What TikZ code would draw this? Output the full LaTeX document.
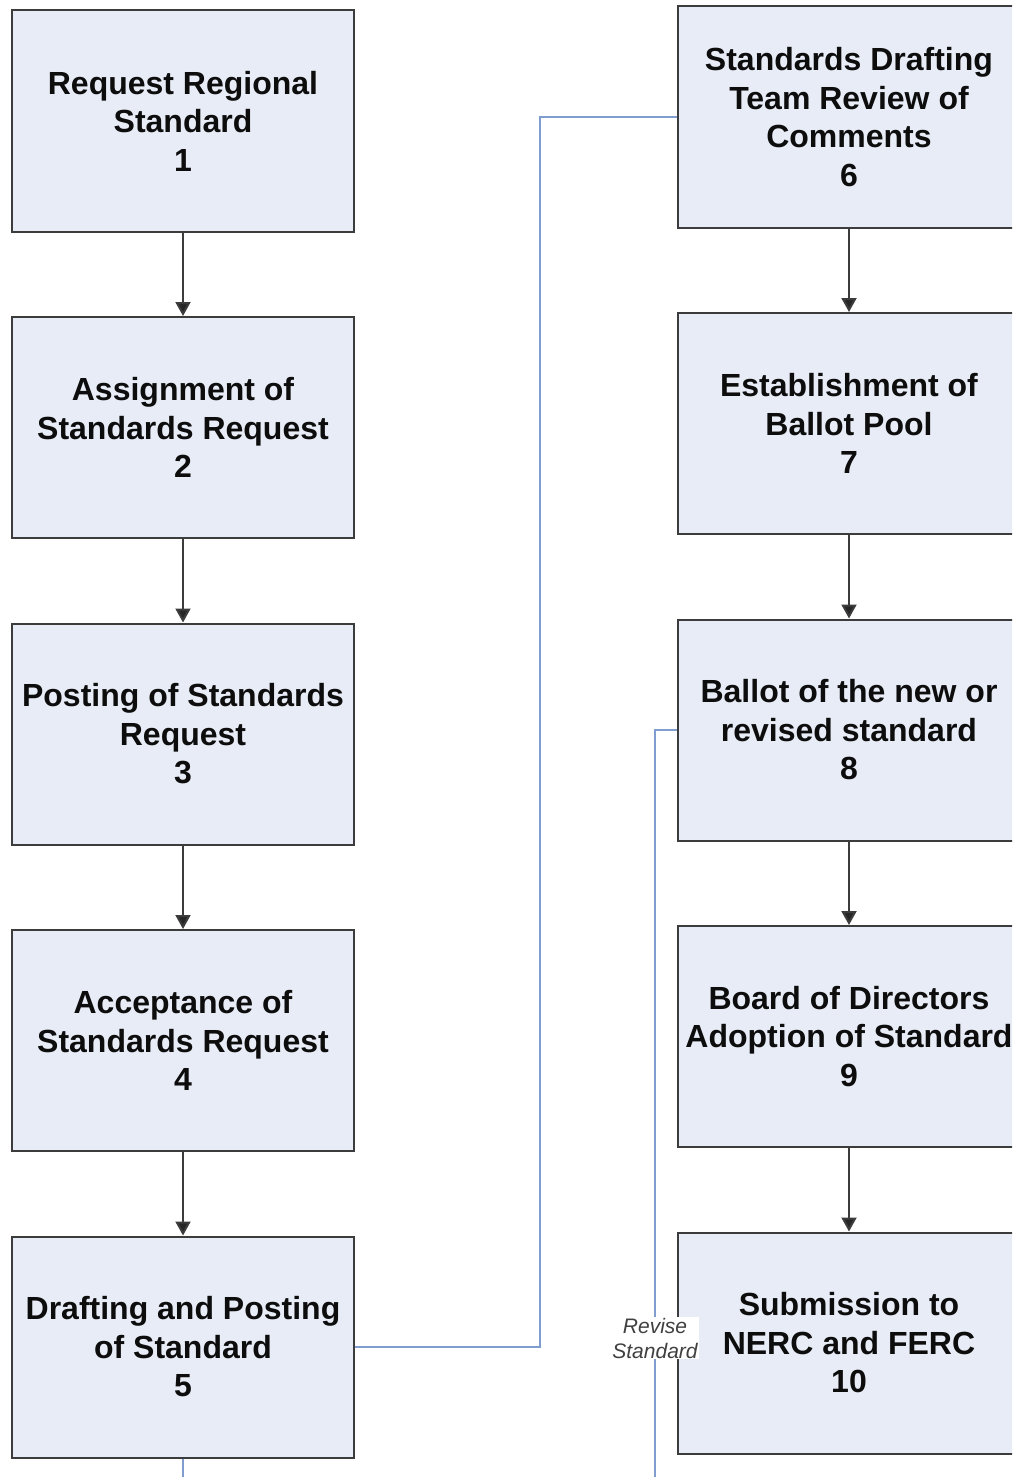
\documentclass[tikz,border=0pt]{standalone}
\usepackage{fontspec}
\setmainfont{Liberation Sans}
\usetikzlibrary{positioning,arrows.meta}

\definecolor{boxfill}{RGB}{232,236,246}
\definecolor{boxline}{RGB}{60,60,60}
\definecolor{loopblue}{RGB}{127,157,206}

\tikzset{
  stepbox/.style={draw=boxline,line width=2pt,fill=boxfill,minimum width=342pt,minimum height=221pt,
    align=center,inner sep=0pt,font=\fontsize{32}{38.5}\selectfont\bfseries,text=black!95},
  flow/.style={draw=boxline,line width=2pt,-{Triangle[length=14pt,width=15pt,fill=black!85]}},
  back/.style={draw=loopblue,line width=2pt}
}

\begin{document}
\begin{tikzpicture}[x=1pt,y=1pt,node distance=83.5pt]

\path[use as bounding box,clip] (0,0) rectangle (1012,-1477);

\begin{scope}
\node [stepbox] (b1) at (183,-121) {Request Regional\\Standard\\1};
\node [stepbox,below=of b1] (b2) {Assignment of\\Standards Request\\2};
\node [stepbox,below=of b2] (b3) {Posting of Standards\\Request\\3};
\node [stepbox,below=of b3] (b4) {Acceptance of\\Standards Request\\4};
\node [stepbox,below=of b4] (b5) {Drafting and Posting\\of Standard\\5};
\end{scope}

\begin{scope}
\node [stepbox] (b6) at (849,-117) {Standards Drafting\\Team Review of\\Comments\\6};
\node [stepbox,below=of b6] (b7) {Establishment of\\Ballot Pool\\7};
\node [stepbox,below=of b7] (b8) {Ballot of the new or\\revised standard\\8};
\node [stepbox,below=of b8] (b9) {Board of Directors\\Adoption of Standard\\9};
\node [stepbox,below=of b9] (b10) {Submission to\\NERC and FERC\\10};
\end{scope}

\draw [flow] (b1.south) -- (b2.north);
\draw [flow] (b2.south) -- (b3.north);
\draw [flow] (b3.south) -- (b4.north);
\draw [flow] (b4.south) -- (b5.north);
\draw [flow] (b6.south) -- (b7.north);
\draw [flow] (b7.south) -- (b8.north);
\draw [flow] (b8.south) -- (b9.north);
\draw [flow] (b9.south) -- (b10.north);

\draw [back] (b5.east) -- ++(185,0) |- (b6.west);

% loop back, closed below the page edge
\coordinate (loop) at (655,-1495);
\draw [back] (b8.west) -| (loop) -| (b5.south);
\node [fill=white,inner sep=1pt,align=center,font=\fontsize{21}{25}\selectfont\itshape,text=black!75] (rev) at (655,-1338) {Revise\\Standard};

\end{tikzpicture}
\end{document}
